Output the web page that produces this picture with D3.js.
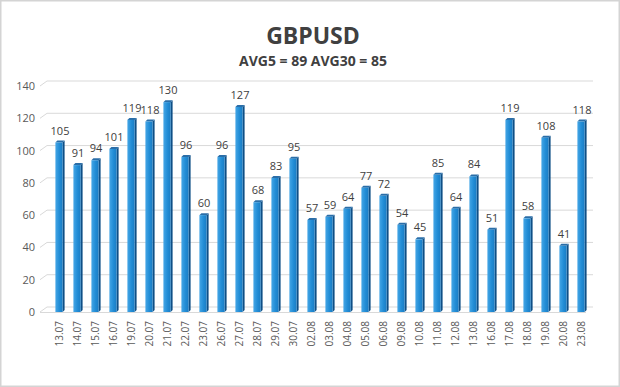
<!DOCTYPE html>
<html>
<head>
<meta charset="utf-8">
<script src="https://cdn.jsdelivr.net/npm/d3@7"></script>
<style>
  body { margin: 0; background: #fff; }
  text { font-family: "Open Sans", "DejaVu Sans", sans-serif; }
</style>
</head>
<body>
<div id="chart"></div>
<script>
// Chart data
const dates = ["13.07", "14.07", "15.07", "16.07", "19.07", "20.07", "21.07", "22.07", "23.07", "26.07",
  "27.07", "28.07", "29.07", "30.07", "02.08", "03.08", "04.08", "05.08", "06.08", "09.08",
  "10.08", "11.08", "12.08", "13.08", "16.08", "17.08", "18.08", "19.08", "20.08", "23.08"];
const values = [105, 91, 94, 101, 119, 118, 130, 96, 60, 96,
  127, 68, 83, 95, 57, 59, 64, 77, 72, 54,
  45, 85, 64, 84, 51, 119, 58, 108, 41, 118];
const yTicks = [0, 20, 40, 60, 80, 100, 120, 140];

let width = 620, height = 387;
let margin = {top: 86, right: 30, bottom: 75, left: 50};

let svg = d3.select("#chart").append("svg")
    .attr("width", width)
    .attr("height", height);

// frame
svg.append("rect")
    .attr("x", 0.5).attr("y", 0.5)
    .attr("width", width - 1).attr("height", height - 1)
    .attr("fill", "#fff")
    .attr("stroke", "#d4d4d4")
    .attr("stroke-width", 2);

// gradient for the bar fronts
let defs = svg.append("defs");
let grad = defs.append("linearGradient").attr("id", "front")
    .attr("x1", "0%").attr("x2", "100%");
grad.append("stop").attr("offset", "0%").attr("stop-color", "#45a6e6");
grad.append("stop").attr("offset", "55%").attr("stop-color", "#228dd6");
grad.append("stop").attr("offset", "100%").attr("stop-color", "#1a7cc4");

const xScale = d3.scaleBand()
    .domain(dates)
    .range([margin.left, width - margin.right])
    .paddingInner(0.6)
    .paddingOuter(0.3);

const yScale = d3.scaleLinear()
    .domain([0, 140])
    .range([height - margin.bottom, margin.top]);

// 3D offset of the back wall
const dx = 7, dy = -5;
const x0 = margin.left - 10, x1 = width - 27;

// gridlines with the perspective kink at the left
svg.append("g").selectAll("path")
    .data(yTicks)
    .join("path")
    .attr("d", d => {
        let y = yScale(d);
        return `M${x0},${y} L${x0 + dx},${y + dy} L${x1},${y + dy}`;
    })
    .attr("fill", "none")
    .attr("stroke", "#d9d9d9")
    .attr("stroke-width", 1);

// floor front edge
svg.append("line")
    .attr("x1", x0).attr("x2", x1 - dx)
    .attr("y1", yScale(0) + 0.5).attr("y2", yScale(0) + 0.5)
    .attr("stroke", "#d9d9d9");

// y axis labels
svg.append("g").selectAll("text")
    .data(yTicks)
    .join("text")
    .attr("x", 35)
    .attr("y", d => yScale(d) + 4)
    .attr("text-anchor", "end")
    .attr("font-size", 11)
    .attr("fill", "#595959")
    .text(d => d);

// bars
const bw = xScale.bandwidth();
const sd = 2;  // depth of side face
let bars = svg.append("g").selectAll("g")
    .data(values)
    .join("g");

bars.append("path")   // side
    .attr("d", (d, i) => {
        let x = xScale(dates[i]) + bw, yt = yScale(d), yb = yScale(0);
        return `M${x},${yt} L${x + sd},${yt - 2} L${x + sd},${yb - 2} L${x},${yb} Z`;
    })
    .attr("fill", "#0f4f86");

bars.append("path")   // top
    .attr("d", (d, i) => {
        let x = xScale(dates[i]), yt = yScale(d);
        return `M${x},${yt} L${x + sd},${yt - 2} L${x + bw + sd},${yt - 2} L${x + bw},${yt} Z`;
    })
    .attr("fill", "#2a6ea8");

bars.append("rect")   // front
    .attr("x", (d, i) => xScale(dates[i]))
    .attr("y", d => yScale(d))
    .attr("width", bw)
    .attr("height", d => yScale(0) - yScale(d))
    .attr("fill", "url(#front)");

// value labels
svg.append("g").selectAll("text")
    .data(values)
    .join("text")
    .attr("x", (d, i) => xScale(dates[i]) + bw / 2 + 1)
    .attr("y", d => yScale(d) - 8)
    .attr("text-anchor", "middle")
    .attr("font-size", 11)
    .attr("fill", "#404040")
    .text(d => d);

// x labels rotated
svg.append("g").selectAll("text")
    .data(dates)
    .join("text")
    .attr("transform", d => `translate(${xScale(d) + bw / 2 + 4},${yScale(0) + 9}) rotate(-90)`)
    .attr("text-anchor", "end")
    .attr("font-size", 10)
    .attr("fill", "#595959")
    .text(d => d);

// titles
svg.append("text")
    .attr("x", width / 2 + 3).attr("y", 44)
    .attr("text-anchor", "middle")
    .attr("font-size", 23)
    .attr("font-weight", "bold")
    .attr("fill", "#404040")
    .text("GBPUSD");

svg.append("text")
    .attr("x", width / 2 + 3).attr("y", 66)
    .attr("text-anchor", "middle")
    .attr("font-size", 14)
    .attr("font-weight", "bold")
    .attr("fill", "#404040")
    .text("AVG5 = 89 AVG30 = 85");
</script>
</body>
</html>
